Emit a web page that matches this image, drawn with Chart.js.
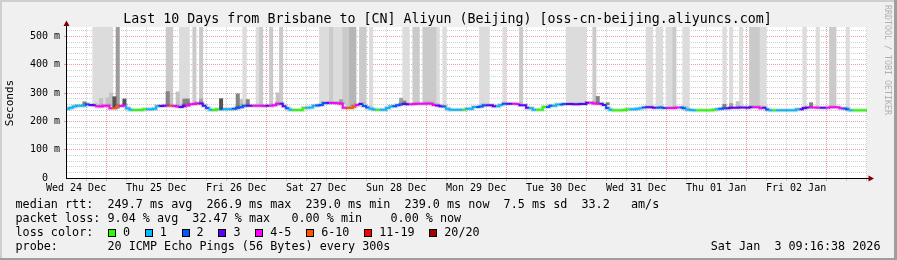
<!DOCTYPE html>
<html><head><meta charset="utf-8">
<script src="https://cdn.jsdelivr.net/npm/chart.js@4/dist/chart.umd.min.js"></script>
<style>html,body{margin:0;padding:0;background:#f0f0f0;}canvas{display:block;}</style>
</head><body>
<canvas id="c" width="897" height="260"></canvas>
<script>
// x values are hours since Wed 24 Dec 2025 00:00 (local time)
const graphStart = 9 + 16/60 + 38/3600;   // 09:16:38
const graphEnd = graphStart + 240;        // Sat 03 Jan 09:16:38
const firstBinHour = 9;                   // hourly consolidated bins start at 09:00

const dayLabels = ['Wed 24 Dec','Thu 25 Dec','Fri 26 Dec','Sat 27 Dec','Sun 28 Dec',
                   'Mon 29 Dec','Tue 30 Dec','Wed 31 Dec','Thu 01 Jan','Fri 02 Jan'];
const yLabelValues = [0,100,200,300,400,500];

// median RTT per hourly bin (ms)
const medianMs = [
 243,244,248,252,255,255,255,260,258,257,253,252,255,255,246,246,253,254,256,246,241,240,240,240,
 243,243,243,244,253,254,255,255,255,254,252,251,255,256,260,261,264,263,255,247,241,240,243,243,
 243,243,243,244,248,250,255,255,255,255,255,255,254,255,255,257,262,262,253,246,241,240,240,240,
 247,248,249,255,256,258,265,265,265,265,264,262,248,247,247,253,258,261,254,249,244,242,241,241,
 241,247,252,253,257,259,261,260,260,261,262,262,262,263,262,258,256,253,252,244,241,241,241,241,
 241,244,244,251,251,252,257,257,257,253,253,258,262,262,262,262,261,257,257,248,246,241,241,241,
 251,251,255,255,259,259,261,261,261,260,260,261,261,266,266,263,262,262,258,247,241,239,239,239,
 240,243,243,243,244,246,249,250,250,248,248,249,247,247,247,247,249,249,246,242,240,239,239,239,
 239,239,239,241,243,244,246,246,248,248,248,249,249,248,250,250,250,246,248,242,239,239,239,239,
 239,239,239,239,243,243,247,249,249,249,248,248,248,248,250,250,250,246,245,243,239,239,239,239,239
];
// packet-loss bucket per bin (index into lossLabels)
const lossBucket = [
 1,1,1,1,1,1,2,3,3,4,4,4,4,4,5,5,4,4,1,1,0,0,0,0,
 1,1,1,1,3,3,4,5,4,4,3,3,4,4,4,4,3,3,2,1,0,0,2,1,
 1,1,2,2,2,2,3,3,4,4,4,4,3,4,4,4,3,3,2,1,0,0,0,0,
 1,1,1,2,2,2,3,4,4,4,4,4,5,5,5,4,3,2,2,1,1,0,1,1,
 1,1,2,2,2,3,3,4,4,4,4,4,4,4,4,3,3,2,1,1,1,1,1,0,
 1,1,1,2,2,2,3,3,3,1,1,2,3,3,4,4,3,3,3,1,1,0,0,0,
 2,2,1,1,2,2,3,3,3,3,3,3,3,4,4,4,3,3,2,1,0,0,0,0,
 0,1,1,1,1,2,3,3,3,2,2,2,4,4,4,4,2,2,1,1,1,0,0,0,
 0,0,0,1,2,2,3,3,3,3,3,3,3,3,4,4,4,3,2,1,0,1,1,1,
 1,1,1,1,3,3,3,4,4,4,3,3,4,4,4,4,4,2,2,1,0,0,0,0,0
];
const lossLabels = ['0','1','2','3','4-5','6-10','11-19','20/20'];
const lossColors = ['#26ff00','#00b8ff','#0059ff','#5e00ff','#ff00ff','#ff5500','#ff0000','#a10000'];

// smoke: bins where the slowest pings went above the visible range
const overTopMs = 700;
const smokeLightBins = [8,9,10,11,12,13,34,35,36,53,57,76,77,78,80,81,82,91,101,102,111,113,
  124,125,126,131,150,151,152,153,154,155,174,175,177,178,180,181,185,186,197,199,202,208,209,221,225,234];
const smokeMidBins = [30,31,38,40,58,61,64,79,83,84,88,89,104,105,107,108,109,110,136,158,182,205,206,207,229,230];
const smokeDenseBins = [85,86];
const smokeDarkBins = [15];
// smoke: bins with slow pings inside the visible range (top in ms)
const partLightBins = [10,12,13,31,33,52,63,201];
const partLightTop  = [281,283,300,300,304,277,301,270];
const partMidBins = [40,82,100,199];
const partMidTop  = [279,277,282,263];
const partDarkBins = [5,30,35,36,51,54,101,159,162,197,223];
const partDarkTop  = [269,305,279,279,297,277,272,288,266,260,266];
const partDarkestBins = [14,17,46];
const partDarkestTop  = [287,279,280];

const W = 897, H = 260;
const MONO = '"DejaVu Sans Mono", monospace';

const binCenter = b => firstBinHour + b + 0.5;
const tallBars = bins => bins.map(b => ({x: binCenter(b), y: [medianMs[b], overTopMs]}));
const partBars = (bins, tops) => bins.map((b, k) => ({x: binCenter(b), y: [medianMs[b], tops[k]]}));
const medianPts = medianMs.map((v, i) => ({x: firstBinHour + i, y: v}));
medianPts.push({x: firstBinHour + medianMs.length, y: medianMs[medianMs.length - 1]});

const barCommon = {type: 'bar', borderWidth: 0, barPercentage: 1, categoryPercentage: 1, grouped: false};

const MINOR = 'rgba(140,140,140,0.42)';
const MAJOR = 'rgba(222,80,80,0.55)';

const decor = {
  id: 'decor',
  beforeDraw(chart) {
    const c = chart.ctx, a = chart.chartArea;
    c.save();
    c.fillStyle = '#f0f0f0'; c.fillRect(0, 0, W, H);
    c.fillStyle = '#cfcfcf'; c.fillRect(0, 0, W, 2); c.fillRect(0, 0, 2, H);
    c.fillStyle = '#9e9e9e'; c.fillRect(0, H - 2, W, 2); c.fillRect(W - 3, 0, 3, H);
    c.fillStyle = '#ffffff'; c.fillRect(a.left, a.top, a.right - a.left, a.bottom - a.top);
    c.restore();
  },
  afterDraw(chart) {
    const c = chart.ctx, a = chart.chartArea;
    c.save();
    // axes
    c.strokeStyle = '#000'; c.lineWidth = 1;
    c.beginPath();
    c.moveTo(a.left - 0.5, a.bottom + 1); c.lineTo(a.left - 0.5, a.top - 2);
    c.moveTo(a.left - 1, a.bottom + 0.5); c.lineTo(a.right + 3, a.bottom + 0.5);
    c.stroke();
    c.fillStyle = '#7f0000';
    c.beginPath(); c.moveTo(a.left - 0.5, a.top - 6.5); c.lineTo(a.left - 3.5, a.top - 1); c.lineTo(a.left + 2.5, a.top - 1); c.closePath(); c.fill();
    c.beginPath(); c.moveTo(a.right + 7, a.bottom + 0.5); c.lineTo(a.right + 1.5, a.bottom - 2.5); c.lineTo(a.right + 1.5, a.bottom + 3.5); c.closePath(); c.fill();

    c.fillStyle = '#000';
    c.textBaseline = 'middle';
    // title
    c.font = '13.3px ' + MONO; c.textAlign = 'center';
    c.fillText('Last 10 Days from Brisbane to [CN] Aliyun (Beijing) [oss-cn-beijing.aliyuncs.com]', 447.5, 19.5);
    // y unit
    c.save(); c.translate(10.5, 103); c.rotate(-Math.PI / 2);
    c.font = '11px ' + MONO; c.textAlign = 'center'; c.fillText('Seconds', 0, 0);
    c.restore();
    // watermark
    c.save(); c.translate(887, 60); c.rotate(Math.PI / 2);
    c.font = '8.3px ' + MONO; c.textAlign = 'center'; c.fillStyle = '#b0b0b0';
    c.fillText('RRDTOOL / TOBI OETIKER', 0, 0);
    c.restore();
    // legend
    c.font = '11.75px ' + MONO; c.textAlign = 'left';
    const lx = 15.5;
    c.fillText('median rtt:  249.7 ms avg  266.9 ms max  239.0 ms min  239.0 ms now  7.5 ms sd  33.2   am/s', lx, 204.5);
    c.fillText('packet loss: 9.04 % avg  32.47 % max   0.00 % min    0.00 % now', lx, 218.5);
    c.fillText('loss color:', lx, 232.5);
    c.fillText('probe:       20 ICMP Echo Pings (56 Bytes) every 300s', lx, 246.5);
    const cw = 7.075;
    let tx = lx + 15.2 * cw;
    lossLabels.forEach((lab, k) => {
      const sx = Math.round(tx - 15);
      c.fillStyle = '#000'; c.fillRect(sx, 229, 8, 8);
      c.fillStyle = lossColors[k]; c.fillRect(sx + 1, 230, 6, 6);
      c.fillStyle = '#000'; c.fillText(lab, tx, 232.5);
      tx += (lab.length + 4.2) * cw;
    });
    c.textAlign = 'right';
    c.fillText('Sat Jan  3 09:16:38 2026', 880.5, 246.5);
    c.restore();
  }
};

new Chart(document.getElementById('c'), {
  type: 'line',
  data: {
    datasets: [
      {...barCommon, data: tallBars(smokeLightBins), backgroundColor: '#dcdcdc', order: 20},
      {...barCommon, data: tallBars(smokeMidBins), backgroundColor: '#cacaca', order: 19},
      {...barCommon, data: tallBars(smokeDenseBins), backgroundColor: '#b6b6b6', order: 18},
      {...barCommon, data: tallBars(smokeDarkBins), backgroundColor: '#9c9c9c', order: 17},
      {...barCommon, data: partBars(partLightBins, partLightTop), backgroundColor: '#c2c2c2', order: 10},
      {...barCommon, data: partBars(partMidBins, partMidTop), backgroundColor: '#a4a4a4', order: 9},
      {...barCommon, data: partBars(partDarkBins, partDarkTop), backgroundColor: '#848484', order: 8},
      {...barCommon, data: partBars(partDarkestBins, partDarkestTop), backgroundColor: '#555555', order: 7},
      {type: 'line', data: medianPts, stepped: 'after', borderColor: 'rgba(0,0,0,0.14)', borderWidth: 4,
       pointRadius: 0, fill: false, order: 2},
      {type: 'line', data: medianPts, stepped: 'after', borderWidth: 2, pointRadius: 0, fill: false, order: 1,
       borderColor: lossColors[0],
       segment: {borderColor: ctx => lossColors[lossBucket[Math.min(ctx.p0DataIndex, lossBucket.length - 1)]]}}
    ]
  },
  options: {
    responsive: false, animation: false, devicePixelRatio: 1,
    layout: {padding: {left: 0, top: 27, right: 30, bottom: 0}},
    plugins: {legend: {display: false}, title: {display: false}, tooltip: {enabled: false}},
    scales: {
      x: {
        type: 'linear', min: graphStart, max: graphEnd, offset: false,
        afterBuildTicks: s => { const t = []; for (let v = 12; v < graphEnd; v += 6) t.push({value: v}); s.ticks = t; },
        afterFit: s => { s.height = 82; },
        ticks: {
          autoSkip: false, maxRotation: 0, padding: 1, color: '#000',
          font: {family: MONO, size: 10},
          callback: v => ((v - 12) % 24 === 0 ? dayLabels[(v - 12) / 24] : '')
        },
        grid: {
          lineWidth: 1, tickLength: 3, drawTicks: true,
          color: ctx => (ctx.tick && ctx.tick.value % 24 === 0 ? MAJOR : MINOR),
          tickColor: ctx => (ctx.tick && ctx.tick.value % 24 === 0 ? MAJOR : MINOR)
        },
        border: {display: false, dash: [1, 1]}
      },
      y: {
        type: 'linear', min: 0, max: 533,
        afterBuildTicks: s => { const t = []; for (let v = 0; v <= 520; v += 20) t.push({value: v}); s.ticks = t; },
        afterFit: s => { s.width = 67; },
        ticks: {
          autoSkip: false, padding: 4, color: '#000',
          font: {family: MONO, size: 10},
          callback: v => (yLabelValues.includes(v) ? (v === 0 ? '0  ' : v + ' m') : '')
        },
        grid: {
          lineWidth: 1, tickLength: 3, drawTicks: true,
          color: ctx => (!ctx.tick || ctx.tick.value === 0 ? 'rgba(0,0,0,0)' : (ctx.tick.value % 100 === 0 ? MAJOR : MINOR)),
          tickColor: ctx => (ctx.tick && ctx.tick.value % 100 === 0 && ctx.tick.value > 0 ? MAJOR : 'rgba(0,0,0,0)')
        },
        border: {display: false, dash: [1, 1]}
      }
    }
  },
  plugins: [decor]
});
</script>
</body></html>
